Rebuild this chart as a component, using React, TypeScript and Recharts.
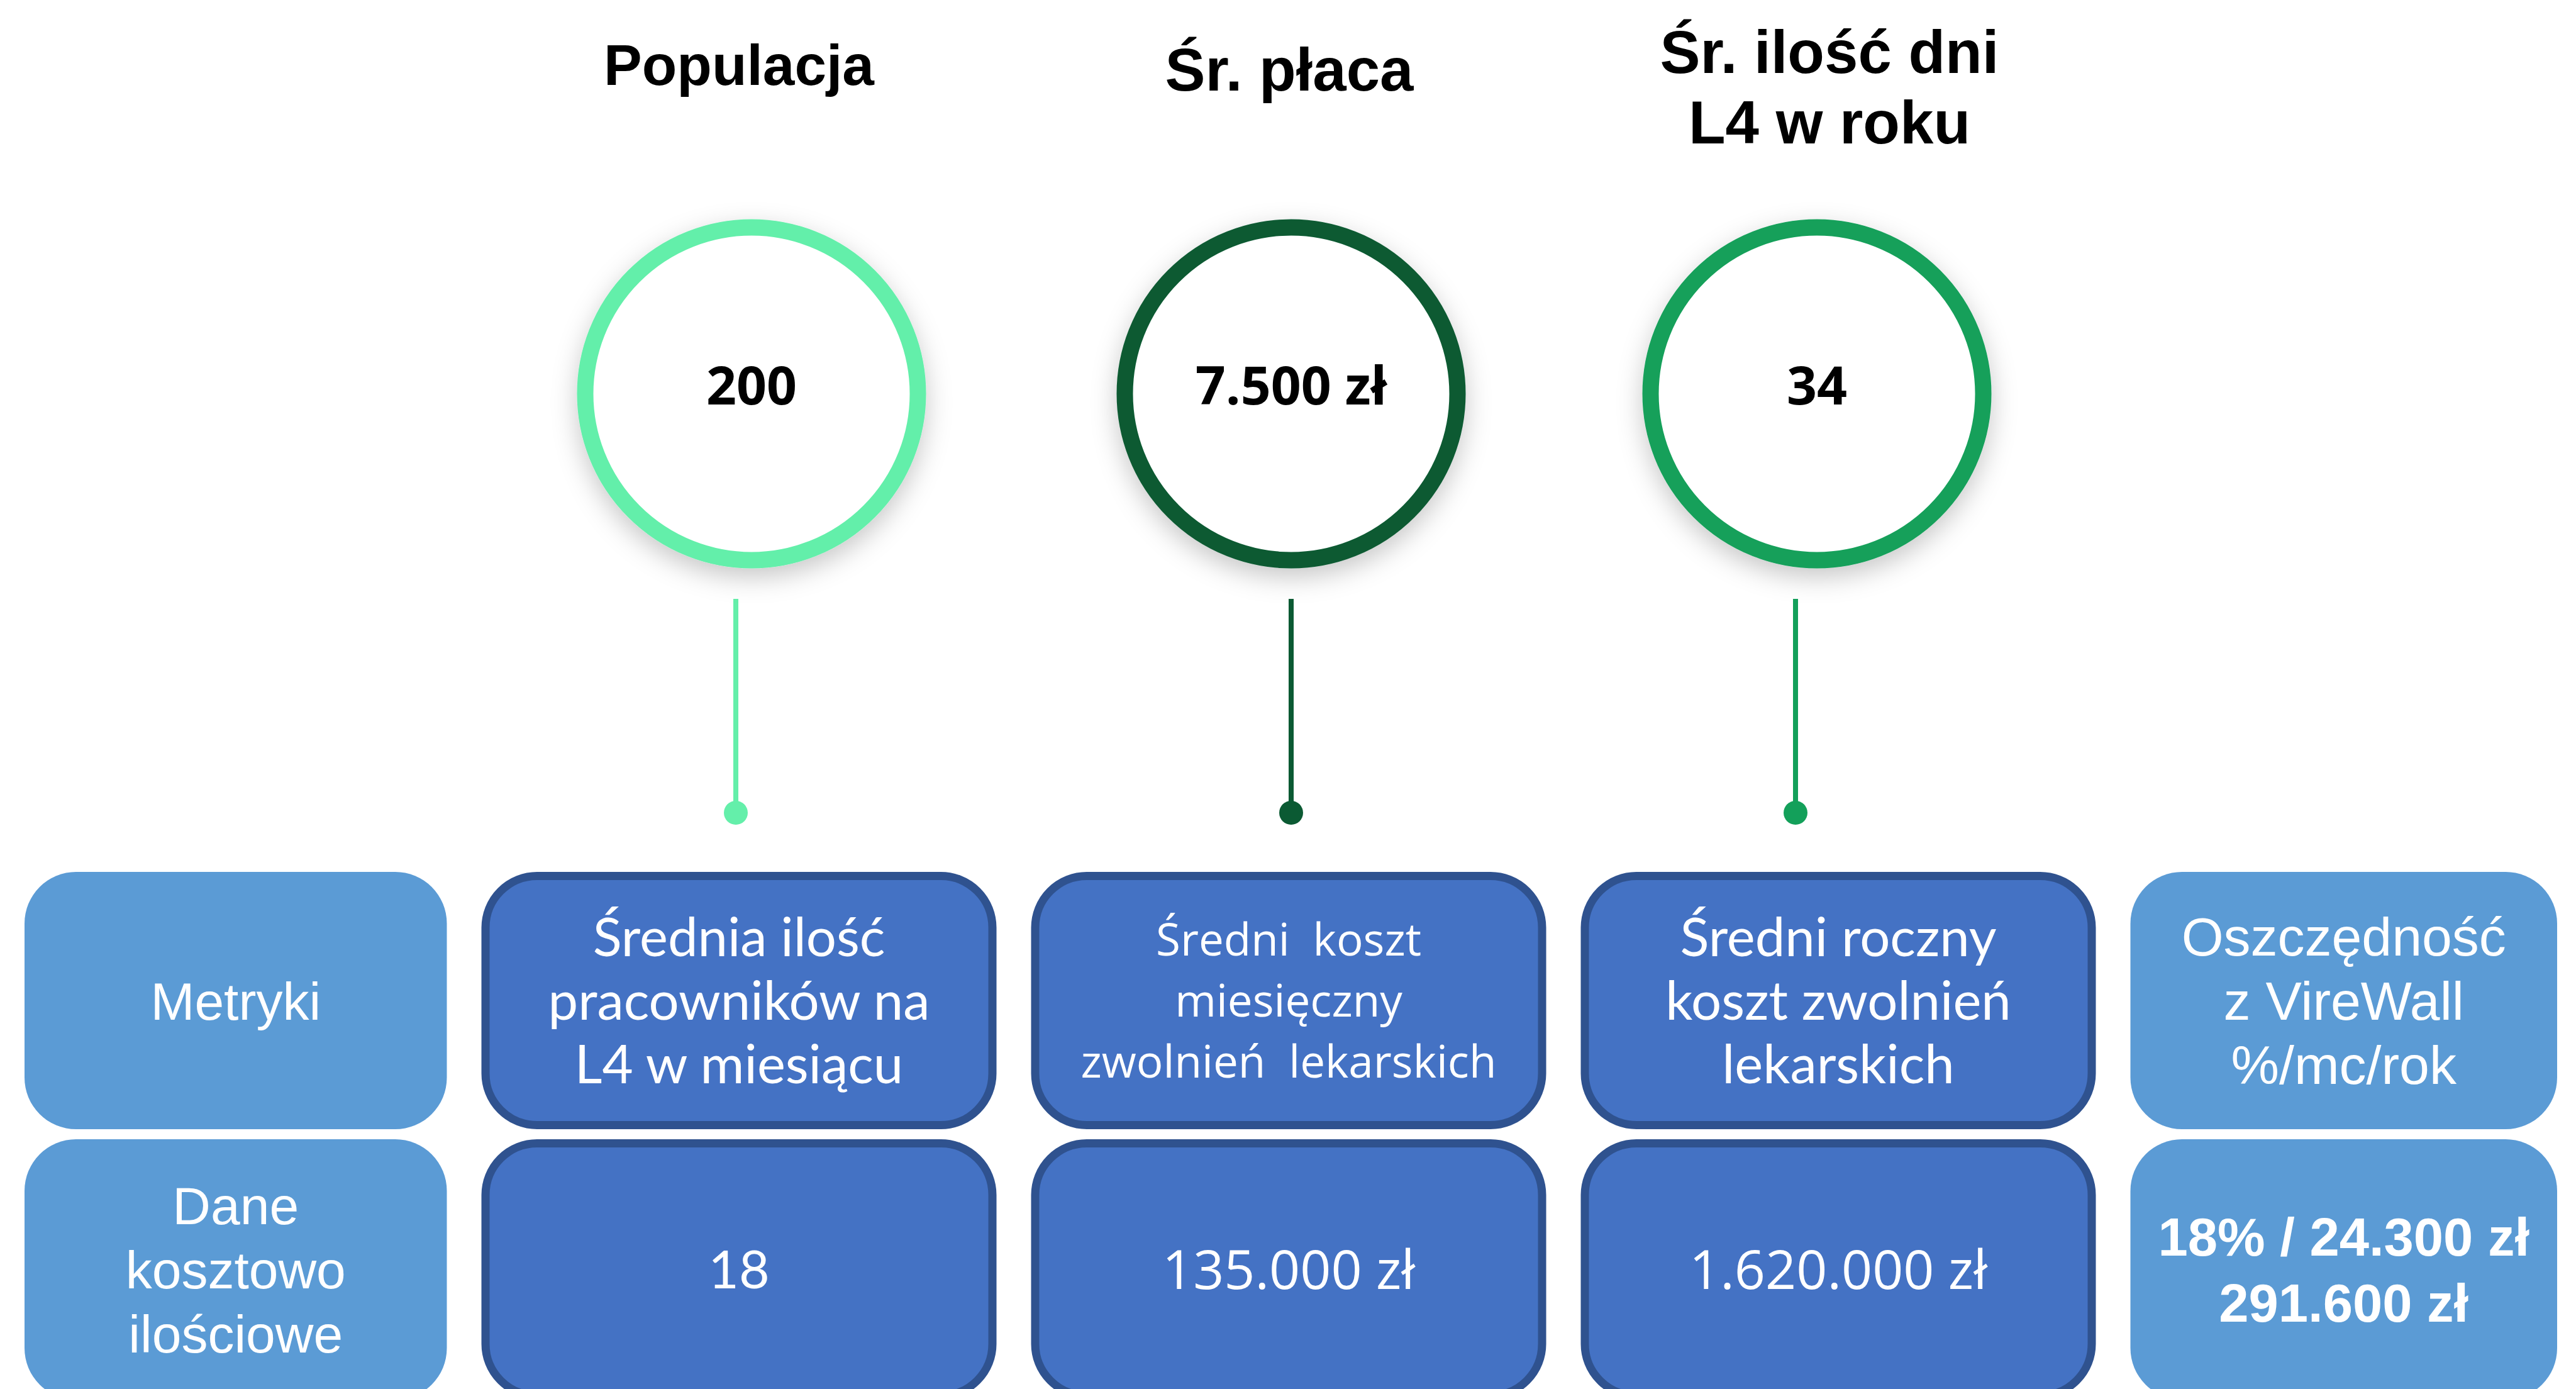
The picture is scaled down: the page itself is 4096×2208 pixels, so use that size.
import React from "react";
import { ScatterChart, Scatter, XAxis, YAxis } from "recharts";

// KPI circles on top
const kpiTitles = [["Populacja"], ["Śr. płaca"], ["Śr. ilość dni", "L4 w roku"]];
const kpiValues = ["200", "7.500 zł", "34"];

// table: header row + values row
const metricLabels = [
  ["Metryki"],
  ["Średnia ilość", "pracowników na", "L4 w miesiącu"],
  ["Średni  koszt", "miesięczny", "zwolnień  lekarskich"],
  ["Średni roczny", "koszt zwolnień", "lekarskich"],
  ["Oszczędność", "z VireWall", "%/mc/rok"],
];
const costValues = [
  ["Dane", "kosztowo", "ilościowe"],
  ["18"],
  ["135.000 zł"],
  ["1.620.000 zł"],
  ["18% / 24.300 zł", "291.600 zł"],
];

const W = 4096;
const H = 2208;

const ringColors = ["#64EFAA", "#0B5A33", "#13A05A"];
const sideFill = "#5B9BD5";
const mainFill = "#4472C4";
const mainBorder = "#2F528F";

// layout (px)
const kpiX0 = 1195, kpiStep = 847;
const colX0 = 301, colStep = 874;
const L = {
  circleY: 626, ringR: 264.5, ringW: 26, numberDy: 17,
  stemTop: 952, dotY: 1292, dotR: 19, stemW: 8,
  row1Y: 1590.5, row1Half: 204.5,
  row2Y: 2018, row2Half: 207,
  cellHalf: 409.5, left: 39, right: 4066, rx: 82, border: 13,
};
// small hand nudges of the KPI group pieces (px)
const circleDx = [0, 11, 0];
const stemDx = [-25, 11, -34];

type TextStyle = { family: string; size: number; weight: number; lineH: number; dx?: number; dy?: number };
const arial = "'Liberation Sans', Arial, sans-serif";
const lato = "Lato, sans-serif";
const openSans = "'Open Sans', sans-serif";

// dy = first baseline of each title block
const titleStyles: TextStyle[] = [
  { family: arial, size: 91, weight: 700, lineH: 112, dx: -20, dy: 135 },
  { family: arial, size: 96, weight: 700, lineH: 112, dx: 8, dy: 144 },
  { family: arial, size: 96, weight: 700, lineH: 112, dx: 20, dy: 116 },
];
const headerStyles: TextStyle[] = [
  { family: arial, size: 84, weight: 400, lineH: 102 },
  { family: lato, size: 85, weight: 400, lineH: 101 },
  { family: openSans, size: 71, weight: 400, lineH: 97 },
  { family: lato, size: 85, weight: 400, lineH: 101 },
  { family: arial, size: 86, weight: 400, lineH: 102 },
];
const valueStyles: TextStyle[] = [
  { family: arial, size: 84, weight: 400, lineH: 102 },
  { family: lato, size: 84, weight: 400, lineH: 102 },
  { family: openSans, size: 86, weight: 400, lineH: 102 },
  { family: openSans, size: 86, weight: 400, lineH: 102 },
  { family: arial, size: 85, weight: 700, lineH: 105 },
];

const kpiTitleData = kpiTitles.map((t, i) => ({ pos: i, y: 0, lines: t, style: titleStyles[i] }));
const kpiCircleData = kpiValues.map((v, i) => ({ pos: i, y: L.circleY, value: v, color: ringColors[i], dx: circleDx[i] }));
const kpiStemData = kpiValues.map((_, i) => ({ pos: i, y: L.dotY, color: ringColors[i], dx: stemDx[i] }));
const headerData = metricLabels.map((lines, i) => ({
  pos: i, y: L.row1Y, half: L.row1Half, lines, style: headerStyles[i], side: i === 0 || i === 4,
}));
const valueData = costValues.map((lines, i) => ({
  pos: i, y: L.row2Y, half: L.row2Half, lines, style: valueStyles[i], side: i === 0 || i === 4,
}));

const KpiTitle = (props: any) => {
  const { cx, cy, payload } = props;
  const st: TextStyle = payload.style;
  return (
    <g>
      {payload.lines.map((s: string, k: number) => (
        <text key={k} x={cx + (st.dx || 0)} y={cy + (st.dy || 0) + k * st.lineH} textAnchor="middle"
          fontFamily={st.family} fontWeight={st.weight} fontSize={st.size} fill="#000">
          {s}
        </text>
      ))}
    </g>
  );
};

const KpiCircle = (props: any) => {
  const { cx, cy, payload } = props;
  const x = cx + payload.dx;
  return (
    <g>
      <circle cx={x} cy={cy} r={L.ringR} fill="#fff" stroke={payload.color}
        strokeWidth={L.ringW} filter="url(#ringShadow)" />
      <text x={x} y={cy + L.numberDy} textAnchor="middle" fontFamily={openSans}
        fontWeight={700} fontSize={84} fill="#000">
        {payload.value}
      </text>
    </g>
  );
};

const KpiStem = (props: any) => {
  const { cx, cy, payload } = props;
  const x = cx + payload.dx;
  return (
    <g>
      <line x1={x} x2={x} y1={L.stemTop} y2={cy} stroke={payload.color} strokeWidth={L.stemW} />
      <circle cx={x} cy={cy} r={L.dotR} fill={payload.color} />
    </g>
  );
};

const Cell = (props: any) => {
  const { cx, cy, payload } = props;
  const st: TextStyle = payload.style;
  const x1 = Math.max(cx - L.cellHalf, L.left);
  const x2 = Math.min(cx + L.cellHalf, L.right);
  const mid = (x1 + x2) / 2;
  const top = cy - payload.half;
  const h = payload.half * 2;
  const n = payload.lines.length;
  const inset = payload.side ? 0 : L.border / 2;
  return (
    <g>
      <rect x={x1 + inset} y={top + inset} width={x2 - x1 - 2 * inset} height={h - 2 * inset}
        rx={L.rx} ry={L.rx} fill={payload.side ? sideFill : mainFill}
        stroke={payload.side ? "none" : mainBorder} strokeWidth={payload.side ? 0 : L.border} />
      {payload.lines.map((s: string, k: number) => (
        <text key={k} x={mid} y={cy + (k - (n - 1) / 2) * st.lineH + st.size * 0.36}
          textAnchor="middle" fontFamily={st.family} fontWeight={st.weight}
          fontSize={st.size} fill="#fff" style={{ whiteSpace: "pre" }}>
          {s}
        </text>
      ))}
    </g>
  );
};

export default function App() {
  return (
    <div style={{ position: "absolute", left: 0, top: 0, width: W, height: H, background: "#fff" }}>
      <ScatterChart width={W} height={H} margin={{ top: 0, right: 0, bottom: 0, left: 0 }}>
        <defs>
          <filter id="ringShadow" x="-40%" y="-40%" width="180%" height="180%">
            <feDropShadow dx="0" dy="14" stdDeviation="20" floodColor="#000" floodOpacity="0.22" />
          </filter>
        </defs>
        <XAxis xAxisId="kpi" type="number" dataKey="pos" hide allowDataOverflow
          domain={[-kpiX0 / kpiStep, (W - kpiX0) / kpiStep]} />
        <XAxis xAxisId="col" type="number" dataKey="pos" hide allowDataOverflow
          domain={[-colX0 / colStep, (W - colX0) / colStep]} />
        <YAxis type="number" dataKey="y" hide reversed allowDataOverflow domain={[0, H]} />
        <Scatter xAxisId="col" data={headerData} shape={Cell} isAnimationActive={false} />
        <Scatter xAxisId="col" data={valueData} shape={Cell} isAnimationActive={false} />
        <Scatter xAxisId="kpi" data={kpiStemData} shape={KpiStem} isAnimationActive={false} />
        <Scatter xAxisId="kpi" data={kpiCircleData} shape={KpiCircle} isAnimationActive={false} />
        <Scatter xAxisId="kpi" data={kpiTitleData} shape={KpiTitle} isAnimationActive={false} />
      </ScatterChart>
    </div>
  );
}
